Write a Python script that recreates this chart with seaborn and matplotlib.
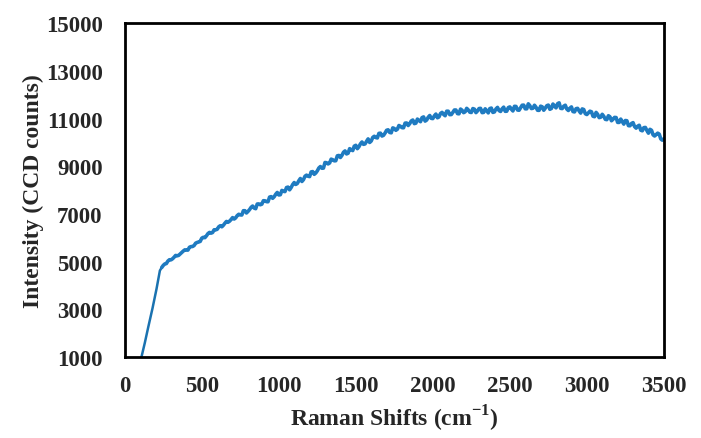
import numpy as np
import pandas as pd
import matplotlib
matplotlib.use("Agg")
import matplotlib.pyplot as plt
import seaborn as sns

# steep rise at the start of the spectrum (cm-1, counts)
rise_shift = [108, 130, 152, 180, 206, 228, 240]
rise_counts = [1000, 1600, 2250, 3050, 3860, 4630, 4760]

# spectrum read every 20 cm-1 from 240 to 3500
even_shift = list(range(240, 3501, 20))
even_counts = [
    4760, 4910, 5030, 5080, 5190, 5250, 5330, 5450, 5490, 5610,
    5640, 5780, 5830, 5990, 6010, 6180, 6200, 6340, 6360, 6510,
    6530, 6690, 6700, 6850, 6840, 6990, 6960, 7140, 7110, 7280,
    7250, 7420, 7390, 7560, 7520, 7710, 7660, 7830, 7800, 7990,
    7940, 8130, 8110, 8320, 8280, 8490, 8440, 8630, 8570, 8780,
    8720, 8930, 8920, 9160, 9100, 9300, 9230, 9440, 9370, 9590,
    9520, 9740, 9660, 9880, 9820, 10020, 9940, 10150, 10060, 10260,
    10190, 10390, 10300, 10510, 10420, 10610, 10510, 10710, 10620, 10810,
    10710, 10900, 10790, 10980, 10870, 11070, 10940, 11130, 11000, 11190,
    11070, 11260, 11120, 11310, 11170, 11360, 11210, 11400, 11250, 11430,
    11270, 11420, 11250, 11420, 11250, 11410, 11240, 11440, 11280, 11470,
    11300, 11480, 11310, 11490, 11320, 11510, 11350, 11560, 11410, 11620,
    11420, 11560, 11350, 11520, 11350, 11540, 11390, 11610, 11450, 11660,
    11420, 11560, 11340, 11490, 11280, 11430, 11230, 11380, 11170, 11310,
    11100, 11260, 11040, 11180, 10970, 11120, 10910, 11050, 10840, 10980,
    10770, 10910, 10700, 10830, 10600, 10720, 10490, 10630, 10390, 10510,
    10270, 10390, 10150, 10150,
]

# points in between, 250 to 3490
mid_shift = list(range(250, 3491, 20))
mid_counts = [
    4850, 4925, 5085, 5125, 5265, 5270, 5385, 5500, 5490, 5635,
    5680, 5810, 5855, 6025, 6085, 6230, 6225, 6340, 6465, 6465,
    6615, 6655, 6770, 6790, 6935, 6965, 7140, 7045, 7185, 7335,
    7225, 7425, 7415, 7555, 7515, 7730, 7725, 7905, 7810, 7955,
    8110, 8015, 8235, 8240, 8395, 8365, 8585, 8585, 8765, 8665,
    8810, 8990, 8925, 9150, 9140, 9275, 9235, 9455, 9460, 9645,
    9550, 9695, 9845, 9740, 9940, 9920, 10050, 10000, 10210, 10205,
    10380, 10270, 10395, 10530, 10405, 10585, 10555, 10675, 10615, 10815,
    10790, 10940, 10810, 10920, 11040, 10895, 11055, 11010, 11115, 11035,
    11215, 11175, 11310, 11165, 11260, 11360, 11200, 11350, 11285, 11365,
    11255, 11395, 11320, 11430, 11260, 11330, 11420, 11260, 11405, 11335,
    11410, 11305, 11460, 11395, 11515, 11360, 11455, 11565, 11410, 11540,
    11435, 11475, 11345, 11495, 11435, 11565, 11425, 11525, 11625, 11430,
    11520, 11400, 11435, 11295, 11415, 11320, 11405, 11205, 11240, 11285,
    11080, 11180, 11060, 11095, 10955, 11075, 10970, 11045, 10840, 10875,
    10920, 10705, 10795, 10665, 10680, 10515, 10620, 10500, 10550, 10320,
    10330, 10350, 10095,
]

rise = pd.DataFrame({"shift": rise_shift, "counts": rise_counts})
noisy = pd.DataFrame({
    "shift": even_shift + mid_shift,
    "counts": even_counts + mid_counts,
}).sort_values("shift")

x_ticks = [0, 500, 1000, 1500, 2000, 2500, 3000, 3500]
y_ticks = [1000, 3000, 5000, 7000, 9000, 11000, 13000, 15000]

sns.set_style("white")
plt.rcParams["font.family"] = ["Liberation Serif", "DejaVu Serif"]
plt.rcParams["font.weight"] = "bold"
plt.rcParams["mathtext.fontset"] = "custom"
plt.rcParams["mathtext.rm"] = "Liberation Serif:bold"
plt.rcParams["mathtext.bf"] = "Liberation Serif:bold"

fig = plt.figure(figsize=(7.01, 4.39), dpi=100)
ax = fig.add_axes([0.178, 0.184, 0.769, 0.761])

sns.lineplot(data=rise, x="shift", y="counts", ax=ax, color="#1a72b0",
             linewidth=1.8, sort=False, estimator=None)
sns.lineplot(data=noisy, x="shift", y="counts", ax=ax, color="#1f7bc1",
             linewidth=2.6, sort=False, estimator=None)

ax.set_xlim(0, 3500)
ax.set_ylim(1000, 15000)
ax.set_xticks(x_ticks)
ax.set_yticks(y_ticks)
ax.set_xticklabels([str(v) for v in x_ticks], fontsize=16.5, fontweight="bold")
ax.set_yticklabels([str(v) for v in y_ticks], fontsize=16.5, fontweight="bold")
ax.tick_params(axis="both", length=0)
ax.tick_params(axis="x", pad=13)
ax.tick_params(axis="y", pad=16)

ax.set_xlabel("Raman Shifts (cm$^{\\mathbf{-1}}$)", fontsize=17, fontweight="bold", labelpad=5)
ax.set_ylabel("Intensity (CCD counts)", fontsize=17, fontweight="bold", labelpad=1)

for s in ax.spines.values():
    s.set_visible(True)
    s.set_color("black")
    s.set_linewidth(2)

fig.savefig("out.png", dpi=100)
